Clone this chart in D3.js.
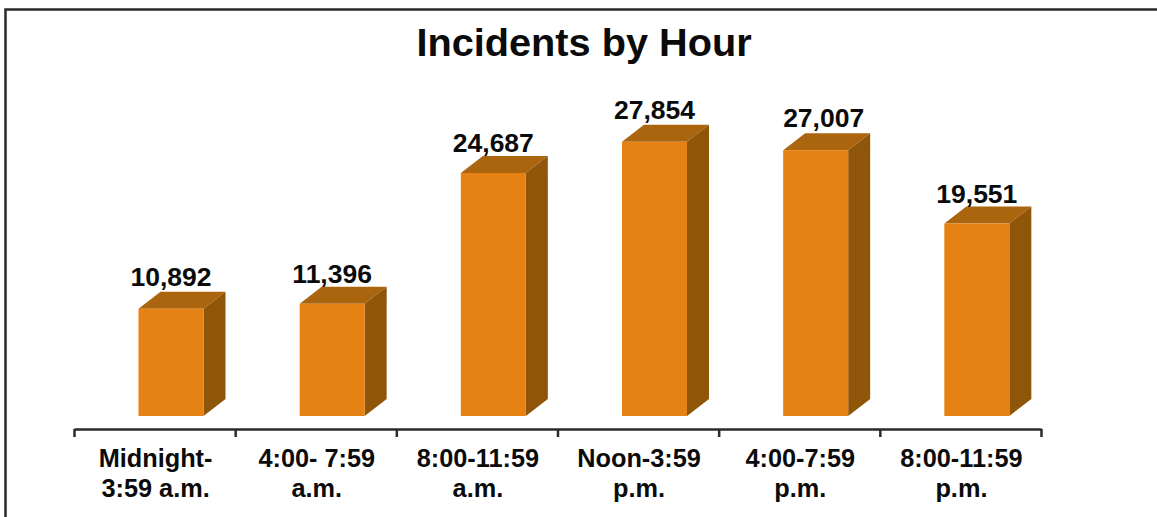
<!DOCTYPE html>
<html>
<head>
<meta charset="utf-8">
<script src="https://cdn.jsdelivr.net/npm/d3@7"></script>
<style>
  html, body { margin: 0; padding: 0; background: #fff; overflow: hidden; }
  text { font-family: "Liberation Sans", Arial, sans-serif; font-weight: bold; fill: #0b0b0b; }
</style>
</head>
<body>
<script>
const categories = ["Midnight-3:59 a.m.", "4:00-7:59 a.m.", "8:00-11:59 a.m.", "Noon-3:59 p.m.", "4:00-7:59 p.m.", "8:00-11:59 p.m."];
const tickLines = [["Midnight-", "3:59 a.m."], ["4:00- 7:59", "a.m."], ["8:00-11:59", "a.m."], ["Noon-3:59", "p.m."], ["4:00-7:59", "p.m."], ["8:00-11:59", "p.m."]];
const incidents = [10892, 11396, 24687, 27854, 27007, 19551];

const w = 1157, h = 517;
const barW = 65, depthX = 22, depthY = 17;   // front face and 3d offset
const barShift = 64.5;                       // front face starts this far into the band

const svg = d3.select("body").append("svg")
    .attr("width", w)
    .attr("height", h)
    .style("display", "block");

// frame, only top and left are in the picture
svg.append("path")
    .attr("d", "M5.5,517V9.5H1157")
    .attr("fill", "none")
    .attr("stroke", "#2a2a2a")
    .attr("stroke-width", 2.5);

svg.append("text")
    .attr("x", 584)
    .attr("y", 56)
    .attr("text-anchor", "middle")
    .style("font-size", "39.7px")
    .text("Incidents by Hour");

const x = d3.scaleBand().domain(categories).range([74, 1041]);
const y = d3.scaleLinear().domain([0, 30000]).range([416, 120.7]);
const edge = d3.scaleLinear().domain([0, categories.length]).range([74, 1041]);

const axis = d3.axisBottom(edge)
    .tickValues(d3.range(categories.length + 1))
    .tickFormat("")
    .tickSize(8)
    .tickSizeOuter(0);

const gAxis = svg.append("g")
    .attr("transform", "translate(0,429)")
    .call(axis);
gAxis.selectAll("path, line").attr("stroke", "#2a2a2a").attr("stroke-width", 2.5);

const bars = svg.selectAll(".bar")
    .data(incidents)
    .enter().append("g")
    .attr("class", "bar");

const left = (d, i) => x(categories[i]) + barShift;

// top face
bars.append("path")
    .attr("fill", "#ab650f")
    .attr("d", (d, i) => {
      const l = left(d, i), t = y(d);
      return `M${l},${t}l${depthX},${-depthY}h${barW}l${-depthX},${depthY}z`;
    });

// side face
bars.append("path")
    .attr("fill", "#8f5509")
    .attr("d", (d, i) => {
      const r = left(d, i) + barW, t = y(d), b = y(0);
      return `M${r},${t}l${depthX},${-depthY}V${b - depthY}l${-depthX},${depthY}z`;
    });

// front face
bars.append("rect")
    .attr("fill", "#e58213")
    .attr("x", left)
    .attr("y", d => y(d))
    .attr("width", barW)
    .attr("height", d => y(0) - y(d));

// hand placed in the original: fifth label off centre, some sit lower on the bar
const labelDx = i => (i === 4 ? 8 : 0);
const labelDy = i => ([1, 2, 5].includes(i) ? -20.5 : -23);

svg.selectAll(".value")
    .data(incidents)
    .enter().append("text")
    .attr("class", "value")
    .attr("x", (d, i) => left(d, i) + barW / 2 + labelDx(i))
    .attr("y", (d, i) => y(d) + labelDy(i))
    .attr("text-anchor", "middle")
    .style("font-size", "26.5px")
    .text(d3.format(","));

const labels = svg.selectAll(".tick-label")
    .data(tickLines)
    .enter().append("text")
    .attr("class", "tick-label")
    .attr("text-anchor", "middle")
    .style("font-size", "25.3px");

labels.selectAll("tspan")
    .data((d, i) => d.map(t => ({ t, i })))
    .enter().append("tspan")
    .attr("x", d => x(categories[d.i]) + x.bandwidth() / 2 + 1)
    .attr("y", (d, j) => 467 + j * 30)
    .text(d => d.t);
</script>
</body>
</html>
